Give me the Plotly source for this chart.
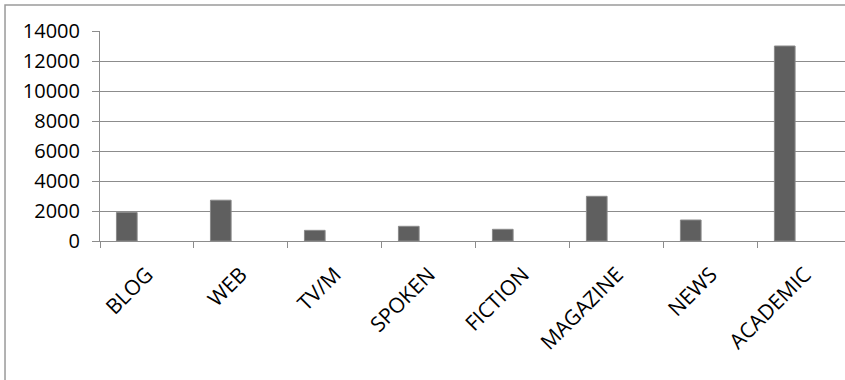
import plotly.graph_objects as go

categories = ["BLOG", "WEB", "TV/M", "SPOKEN", "FICTION", "MAGAZINE", "NEWS", "ACADEMIC"]
values = [1900, 2720, 710, 980, 780, 2980, 1400, 13000]
y_ticks = [0, 2000, 4000, 6000, 8000, 10000, 12000, 14000]

FONT = "Open Sans"
GRID = "#8c8c8c"

fig = go.Figure()
fig.add_trace(go.Bar(
    x=categories, y=values,
    width=0.22, offset=-0.325,
    marker=dict(color="#5f5f5f", line=dict(color="#8a8a8a", width=1)),
    showlegend=False,
))

fig.update_layout(
    width=845, height=380,
    margin=dict(l=100, r=0, t=31, b=139),
    paper_bgcolor="white", plot_bgcolor="white",
    font=dict(family=FONT, size=20, color="#000000"),
    xaxis=dict(
        type="category",
        range=[-0.5, 7.426],
        tickson="boundaries",
        ticks="outside", ticklen=6, tickcolor=GRID, tickwidth=1,
        showgrid=False,
        showline=True, linecolor=GRID, linewidth=1,
        tickangle=-45,
        ticklabelstandoff=12,
        tickfont=dict(family=FONT, size=21, color="#000000"),
        fixedrange=True,
    ),
    yaxis=dict(
        range=[0, 14000],
        tickvals=y_ticks,
        ticktext=[str(v) for v in y_ticks],
        ticks="outside", ticklen=7, tickcolor=GRID, tickwidth=1,
        showgrid=True, gridcolor=GRID, gridwidth=1,
        showline=True, linecolor=GRID, linewidth=1,
        zeroline=False,
        ticklabelstandoff=8,
        tickfont=dict(family=FONT, size=20, color="#000000"),
        fixedrange=True,
    ),
    shapes=[
        dict(type="path", xref="paper", yref="paper",
             path="M -0.1275 -0.70 L -0.1275 1.1238 L 1.01 1.1238",
             line=dict(color="#9a9a9a", width=1.5)),
    ],
)

fig.write_html("out.html")
